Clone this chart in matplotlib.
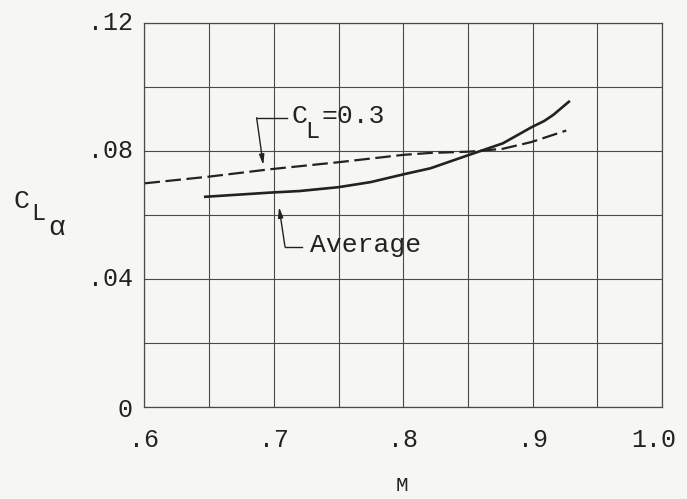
import matplotlib
matplotlib.use("Agg")
import matplotlib.pyplot as plt

# lift-curve slope vs Mach number
mach_cl03 = [0.600, 0.650, 0.697, 0.750, 0.800, 0.821, 0.851, 0.877, 0.899, 0.926]
cla_cl03 = [0.0698, 0.0719, 0.0742, 0.0764, 0.0787, 0.0793, 0.0797, 0.0806, 0.0827, 0.0863]

mach_avg = [0.647, 0.697, 0.720, 0.750, 0.775, 0.800, 0.821, 0.851, 0.877, 0.899, 0.909, 0.916, 0.928]
cla_avg = [0.0656, 0.0669, 0.0674, 0.0686, 0.0702, 0.0726, 0.0745, 0.0787, 0.0823, 0.0873, 0.0893, 0.0912, 0.0953]

x_ticks = [0.6, 0.7, 0.8, 0.9, 1.0]
x_ticklabels = [".6", ".7", ".8", ".9", "1.0"]
y_ticks = [0.0, 0.04, 0.08, 0.12]
y_ticklabels = ["0", ".04", ".08", ".12"]

ink = "#222222"
paper = "#f6f6f3"
font = "Liberation Mono"

plt.rcParams["font.family"] = [font, "DejaVu Sans"]

fig = plt.figure(figsize=(6.87, 4.99), dpi=100, facecolor=paper)
ax = fig.add_axes([0.2103, 0.185, 0.7533, 0.7695], facecolor=paper)

ax.set_xlim(0.6, 1.0)
ax.set_ylim(0.0, 0.12)

# grid every .05 in M and .02 in C_La
ax.set_xticks([0.6 + 0.05 * i for i in range(9)])
ax.set_yticks([0.02 * i for i in range(7)])
ax.grid(True, color="#4a4a4a", linewidth=0.8)
ax.set_axisbelow(True)
ax.tick_params(length=0)
ax.set_xticklabels(["" for _ in range(9)])
ax.set_yticklabels(["" for _ in range(7)])
for s in ax.spines.values():
    s.set_color("#4a4a4a")
    s.set_linewidth(0.9)

# labels only on the major values
for xv, lab in zip(x_ticks, x_ticklabels):
    shift = -0.006 if lab == "1.0" else 0.0
    ax.text(xv + shift, -0.0105, lab, ha="center", va="center", fontsize=18,
            color=ink)
for yv, lab in zip(y_ticks, y_ticklabels):
    ax.text(0.591, yv - (0.001 if yv == 0 else 0), lab, ha="right", va="center",
            fontsize=18, color=ink)

ax.plot(mach_cl03, cla_cl03, color=ink, linewidth=1.6, dashes=(7, 2.5))
ax.plot(mach_avg, cla_avg, color=ink, linewidth=1.9)

arrow = dict(arrowstyle="-|>,head_length=0.6,head_width=0.15", color=ink,
             linewidth=1.0, shrinkA=0, shrinkB=0)

# C_L = 0.3 leader
ax.plot([0.7099, 0.6867], [0.0903, 0.0903], color=ink, linewidth=1.0)
ax.annotate("", xy=(0.6918, 0.0755), xytext=(0.6867, 0.0903), arrowprops=arrow)
ax.text(0.7133, 0.0886, "C", ha="left", va="baseline", fontsize=19, color=ink)
ax.text(0.7245, 0.0839, "L", ha="left", va="baseline", fontsize=17, color=ink)
ax.text(0.7365, 0.0886, "=0.3", ha="left", va="baseline", fontsize=19, color=ink)

# Average leader
ax.plot([0.7086, 0.7215], [0.0500, 0.0500], color=ink, linewidth=1.0)
ax.annotate("", xy=(0.7040, 0.0624), xytext=(0.7086, 0.0500), arrowprops=arrow)
ax.text(0.7279, 0.0483, "Average", ha="left", va="baseline", fontsize=19,
        color=ink)

# y-axis title C_L_alpha, built from stepped subscripts
fig.text(0.0190, 0.5832, "C", ha="left", va="baseline", fontsize=19, color=ink)
fig.text(0.0460, 0.5591, "L", ha="left", va="baseline", fontsize=17, color=ink)
fig.text(0.0700, 0.5290, "α", ha="left", va="baseline", fontsize=20, color=ink)
fig.text(0.585, 0.028, "M", ha="center", va="center", fontsize=15, color=ink)

fig.savefig("out.png", dpi=100, facecolor=paper)
